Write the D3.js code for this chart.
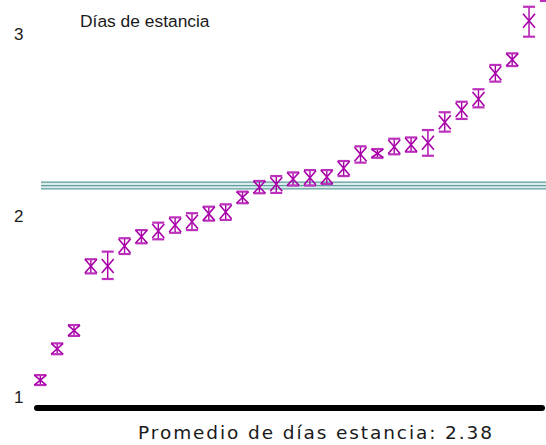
<!DOCTYPE html>
<html>
<head>
<meta charset="utf-8">
<script src="https://cdn.jsdelivr.net/npm/d3@7"></script>
<style>
  html, body { margin: 0; padding: 0; background: #ffffff; }
  svg { display: block; }
</style>
</head>
<body>
<div id="chart"></div>
<script>
// Average length of stay per unit, sorted ascending, with confidence intervals
const categories = d3.range(1, 32).map(String);
const means = [1.094, 1.265, 1.370, 1.723, 1.723, 1.833, 1.884, 1.916, 1.949, 1.967,
               2.011, 2.021, 2.101, 2.159, 2.174, 2.203, 2.210, 2.214, 2.262, 2.339,
               2.345, 2.381, 2.392, 2.403, 2.516, 2.583, 2.644, 2.786, 2.859, 3.076, 3.301];
const lower = [1.066, 1.236, 1.337, 1.682, 1.651, 1.789, 1.848, 1.870, 1.906, 1.921,
               1.973, 1.977, 2.069, 2.124, 2.126, 2.167, 2.167, 2.175, 2.219, 2.293,
               2.320, 2.339, 2.353, 2.331, 2.464, 2.534, 2.598, 2.740, 2.826, 2.988, 3.185];
const upper = [1.121, 1.296, 1.397, 1.760, 1.802, 1.876, 1.921, 1.962, 1.991, 2.014,
               2.050, 2.063, 2.133, 2.192, 2.219, 2.239, 2.252, 2.252, 2.302, 2.383,
               2.368, 2.425, 2.432, 2.473, 2.571, 2.629, 2.698, 2.832, 2.896, 3.153, 3.410];
// Overall reference level with its band
const refLines = [2.186, 2.166, 2.148];
const yTicks = [1, 2, 3];
const titleText = "Días de estancia";
const footerText = "Promedio de días estancia: 2.38";

const W = 546, H = 445;
const svg = d3.select("#chart").append("svg")
  .attr("width", W).attr("height", H);

const x = d3.scalePoint().domain(categories).range([40.3, 545.9]);
const y = d3.scaleLinear().domain([1, 3]).range([397, 34.5]);

// Reference band and lines
const refColor = "#5f9e9e";
svg.append("rect")
  .attr("x", 41).attr("width", W - 41)
  .attr("y", y(d3.max(refLines)))
  .attr("height", y(d3.min(refLines)) - y(d3.max(refLines)))
  .attr("fill", "#dcecec");
svg.append("g").selectAll("line").data(refLines).join("line")
  .attr("x1", 41).attr("x2", W)
  .attr("y1", d => y(d)).attr("y2", d => y(d))
  .attr("stroke", refColor).attr("stroke-width", 1.3);

// Y axis labels
const yAxis = d3.axisLeft(y).tickValues(yTicks).tickSize(0).tickPadding(0)
  .tickFormat(d3.format("d"));
const gy = svg.append("g").attr("transform", "translate(23.5,0)").call(yAxis);
gy.select(".domain").remove();
gy.selectAll("text")
  .attr("font-family", "'Liberation Sans', Arial, sans-serif")
  .attr("font-size", 17).attr("fill", "#1a1a1a");

// Markers: error bar with caps plus an hourglass cross at the mean
const mark = "#a800a8";
const hw = 6;
const pts = categories.map((c, i) => ({ c, m: means[i], lo: lower[i], hi: upper[i] }));
const gm = svg.append("g").attr("fill", "none").attr("stroke", mark);
const node = gm.selectAll("g").data(pts).join("g")
  .attr("transform", d => `translate(${x(d.c)},0)`);

node.append("line")
  .attr("x1", 0).attr("x2", 0)
  .attr("y1", d => y(d.hi)).attr("y2", d => y(d.lo))
  .attr("stroke-width", 1.4);
node.append("line")
  .attr("x1", -hw).attr("x2", hw)
  .attr("y1", d => y(d.hi)).attr("y2", d => y(d.hi))
  .attr("stroke-width", 2.2).attr("stroke", "#bc30bc");
node.append("line")
  .attr("x1", -hw).attr("x2", hw)
  .attr("y1", d => y(d.lo)).attr("y2", d => y(d.lo))
  .attr("stroke-width", 2.2).attr("stroke", "#bc30bc");
node.append("path")
  .attr("stroke-width", 1.6)
  .attr("d", d => {
    const cy = y(d.m);
    const t = Math.max(y(d.hi), cy - 7);
    const b = Math.min(y(d.lo), cy + 7);
    return `M${-hw},${t}L${hw},${b}M${hw},${t}L${-hw},${b}`;
  });

// Title
svg.append("text")
  .attr("x", 80).attr("y", 26.5)
  .attr("font-family", "'Liberation Sans', Arial, sans-serif")
  .attr("font-size", 17.4).attr("fill", "#1a1a1a")
  .text(titleText);

// Baseline rule
svg.append("line")
  .attr("x1", 37).attr("x2", 542)
  .attr("y1", 408).attr("y2", 408)
  .attr("stroke", "#000").attr("stroke-width", 6)
  .attr("stroke-linecap", "round");

// Footer
svg.append("text")
  .attr("x", 316).attr("y", 439)
  .attr("text-anchor", "middle")
  .attr("font-family", "'DejaVu Sans', Verdana, sans-serif")
  .attr("font-size", 18.5).attr("letter-spacing", 1.9)
  .attr("fill", "#1a1a1a")
  .text(footerText);
</script>
</body>
</html>
